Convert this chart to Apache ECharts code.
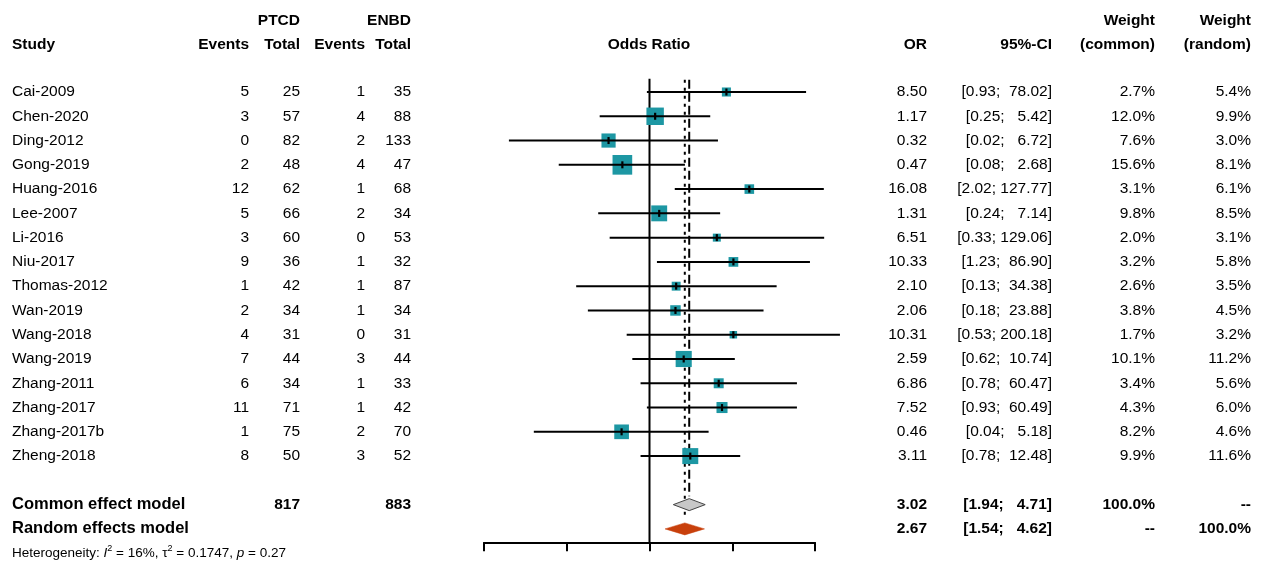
<!DOCTYPE html>
<html><head><meta charset="utf-8">
<script src="https://cdn.jsdelivr.net/npm/echarts@6/dist/echarts.min.js"></script>
<style>html,body{margin:0;padding:0;background:#fff}#c{width:1261px;height:565px}</style>
</head><body><div id="c"></div>
<script>
// ---------------- DATA ----------------
const studies = ['Cai-2009','Chen-2020','Ding-2012','Gong-2019','Huang-2016','Lee-2007','Li-2016','Niu-2017','Thomas-2012','Wan-2019','Wang-2018','Wang-2019','Zhang-2011','Zhang-2017','Zhang-2017b','Zheng-2018'];
const ptcdEvents = [5,3,0,2,12,5,3,9,1,2,4,7,6,11,1,8];
const ptcdTotal  = [25,57,82,48,62,66,60,36,42,34,31,44,34,71,75,50];
const enbdEvents = [1,4,2,4,1,2,0,1,1,1,0,3,1,1,2,3];
const enbdTotal  = [35,88,133,47,68,34,53,32,87,34,31,44,33,42,70,52];
const oddsRatio  = [8.50,1.17,0.32,0.47,16.08,1.31,6.51,10.33,2.10,2.06,10.31,2.59,6.86,7.52,0.46,3.11];
const ciLower    = [0.93,0.25,0.02,0.08,2.02,0.24,0.33,1.23,0.13,0.18,0.53,0.62,0.78,0.93,0.04,0.78];
const ciUpper    = [78.02,5.42,6.72,2.68,127.77,7.14,129.06,86.90,34.38,23.88,200.18,10.74,60.47,60.49,5.18,12.48];
const weightCommon = [2.7,12.0,7.6,15.6,3.1,9.8,2.0,3.2,2.6,3.8,1.7,10.1,3.4,4.3,8.2,9.9];
const weightRandom = [5.4,9.9,3.0,8.1,6.1,8.5,3.1,5.8,3.5,4.5,3.2,11.2,5.6,6.0,4.6,11.6];
const pooledNames  = ['Common effect model','Random effects model'];
const pooledPTCD   = ['817',''];
const pooledENBD   = ['883',''];
const pooledOR     = [3.02, 2.67];
const pooledLower  = [1.94, 1.54];
const pooledUpper  = [4.71, 4.62];
const pooledWCommon = ['100.0%','--'];
const pooledWRandom = ['--','100.0%'];
const axisMin = 0.01, axisMax = 100;
const heterogeneity = {I2: '16%', tau2: '0.1747', p: '0.27'};

// ---------------- LAYOUT / STYLE ----------------
const FONT = '"Liberation Sans", Arial, Helvetica, sans-serif';
const FS = 15.5;
const TEAL = '#1D97A3';
const RED = '#C8400C';
const GRAY = '#C8C8C8';
const COL = {study:12, pEv:249, pTot:300, eEv:365, eTot:411, or:927, ci:1052, wc:1155, wr:1251, forest:649};
const nStudies = studies.length;
const rowCommon = nStudies + 1, rowRandom = nStudies + 2, rowHet = nStudies + 3;

const f2 = v => v.toFixed(2);
const pad = (s, n) => ' '.repeat(Math.max(0, n - s.length)) + s;
const ciText = (lo, up) => '[' + f2(lo) + '; ' + pad(f2(up), 6) + ']';

function T(x, y, text, align, bold, size) {
  return {type:'text', x:x, y:y, silent:true, style:{
    text:text, fill:'#000', fontFamily:FONT, fontSize:size||FS, fontWeight:bold?'bold':'normal',
    align:align||'left', textAlign:align||'left', verticalAlign:'middle', textVerticalAlign:'middle'}};
}

const studyData = studies.map((s,i)=>[oddsRatio[i], i, ciLower[i], ciUpper[i], weightCommon[i]]);
const pooledData = pooledOR.map((v,i)=>[v, rowCommon+i, pooledLower[i], pooledUpper[i], i]);
const refData = [
  [1, -0.55, 18.55, 0],
  [pooledOR[0], -0.5, 16.65, 1],
  [pooledOR[1], -0.5, 17.6, 2]
];

const chart = echarts.init(document.getElementById('c'), null, {renderer:'canvas'});
const option = {
  animation:false,
  backgroundColor:'#fff',
  grid:{left:484, width:331, top:78.65, height:463.6, containLabel:false},
  xAxis:{type:'log', logBase:10, min:axisMin, max:axisMax, position:'bottom',
    axisLine:{show:true, onZero:false, lineStyle:{color:'#000', width:2}},
    axisTick:{show:true, inside:false, length:9, lineStyle:{color:'#000', width:2}},
    axisLabel:{show:false}, splitLine:{show:false}, minorTick:{show:false}},
  yAxis:{type:'value', inverse:true, min:-0.55, max:18.55, show:false},
  series:[
    { // reference lines
      type:'custom', z:1, clip:false, data:refData, encode:{x:0, y:[1,2]},
      renderItem:(p, api)=>{
        const a = api.coord([api.value(0), api.value(1)]);
        const b = api.coord([api.value(0), api.value(2)]);
        const k = api.value(3);
        const dash = k===0 ? null : (k===1 ? [9,4] : [3,5]);
        return {type:'line', shape:{x1:a[0], y1:a[1], x2:b[0], y2:b[1]},
          style:{stroke:'#000', lineWidth:2, lineDash:dash}};
      }
    },
    { // studies: squares + CI
      type:'custom', z:3, clip:false, data:studyData, encode:{x:[0,2,3], y:1},
      renderItem:(p, api)=>{
        const row = api.value(1);
        const c = api.coord([api.value(0), row]);
        const lo = api.coord([api.value(2), row]);
        const up = api.coord([api.value(3), row]);
        const s = 4.6*Math.sqrt(api.value(4)) + 1.5;
        return {type:'group', children:[
          {type:'rect', shape:{x:c[0]-s/2, y:c[1]-s/2, width:s, height:s}, style:{fill:TEAL}},
          {type:'line', shape:{x1:lo[0], y1:c[1], x2:up[0], y2:c[1]}, style:{stroke:'#000', lineWidth:2}},
          {type:'line', shape:{x1:c[0], y1:c[1]-3.5, x2:c[0], y2:c[1]+3.5}, style:{stroke:'#000', lineWidth:2.2}}
        ]};
      }
    },
    { // pooled diamonds
      type:'custom', z:3, clip:false, data:pooledData, encode:{x:[0,2,3], y:1},
      renderItem:(p, api)=>{
        const row = api.value(1);
        const c = api.coord([api.value(0), row]);
        const lo = api.coord([api.value(2), row]);
        const up = api.coord([api.value(3), row]);
        const h = 6;
        const common = api.value(4)===0;
        return {type:'polygon', shape:{points:[[lo[0],c[1]],[c[0],c[1]-h],[up[0],c[1]],[c[0],c[1]+h]]},
          style:{fill: common?GRAY:RED, stroke: common?'#444':RED, lineWidth: common?1:0.5}};
      }
    },
    { // table text for studies
      type:'custom', z:4, clip:false, data:studies.map((s,i)=>[1,i]), encode:{x:0, y:1},
      renderItem:(p, api)=>{
        const i = p.dataIndex;
        const y = api.coord([1, api.value(1)])[1];
        return {type:'group', children:[
          T(COL.study, y, studies[i], 'left'),
          T(COL.pEv, y, String(ptcdEvents[i]), 'right'),
          T(COL.pTot, y, String(ptcdTotal[i]), 'right'),
          T(COL.eEv, y, String(enbdEvents[i]), 'right'),
          T(COL.eTot, y, String(enbdTotal[i]), 'right'),
          T(COL.or, y, f2(oddsRatio[i]), 'right'),
          T(COL.ci, y, ciText(ciLower[i], ciUpper[i]), 'right'),
          T(COL.wc, y, weightCommon[i].toFixed(1)+'%', 'right'),
          T(COL.wr, y, weightRandom[i].toFixed(1)+'%', 'right')
        ]};
      }
    },
    { // pooled text
      type:'custom', z:4, clip:false, data:pooledNames.map((s,i)=>[1,rowCommon+i]), encode:{x:0, y:1},
      renderItem:(p, api)=>{
        const i = p.dataIndex;
        const y = api.coord([1, api.value(1)])[1];
        return {type:'group', children:[
          T(COL.study, y, pooledNames[i], 'left', true, 16.5),
          T(COL.pTot, y, pooledPTCD[i], 'right', true),
          T(COL.eTot, y, pooledENBD[i], 'right', true),
          T(COL.or, y, f2(pooledOR[i]), 'right', true),
          T(COL.ci, y, ciText(pooledLower[i], pooledUpper[i]), 'right', true),
          T(COL.wc, y, pooledWCommon[i], 'right', true),
          T(COL.wr, y, pooledWRandom[i], 'right', true)
        ]};
      }
    },
    { // headers + heterogeneity
      type:'custom', z:4, clip:false, data:[[1,-2.95],[1,-1.95],[1,rowHet]], encode:{x:0, y:1},
      renderItem:(p, api)=>{
        const y = api.coord([1, api.value(1)])[1];
        if (p.dataIndex===0) return {type:'group', children:[
          T(COL.pTot, y, 'PTCD', 'right', true),
          T(COL.eTot, y, 'ENBD', 'right', true),
          T(COL.wc, y, 'Weight', 'right', true),
          T(COL.wr, y, 'Weight', 'right', true)
        ]};
        if (p.dataIndex===1) return {type:'group', children:[
          T(COL.study, y, 'Study', 'left', true),
          T(COL.pEv, y, 'Events', 'right', true),
          T(COL.pTot, y, 'Total', 'right', true),
          T(COL.eEv, y, 'Events', 'right', true),
          T(COL.eTot, y, 'Total', 'right', true),
          T(COL.forest, y, 'Odds Ratio', 'center', true),
          T(COL.or, y, 'OR', 'right', true),
          T(COL.ci, y, '95%-CI', 'right', true),
          T(COL.wc, y, '(common)', 'right', true),
          T(COL.wr, y, '(random)', 'right', true)
        ]};
        const base = {fontFamily:FONT, fontSize:13.5, fill:'#000', lineHeight:18};
        return {type:'text', x:COL.study, y:y, silent:true, style:{
          text:'{n|Heterogeneity: }{i|I}{s|2}{n| = ' + heterogeneity.I2 + ', τ}{s|2}{n| = ' + heterogeneity.tau2 + ', }{i|p}{n| = ' + heterogeneity.p + '}',
          fill:'#000', fontFamily:FONT, fontSize:13.5, align:'left', textAlign:'left', verticalAlign:'middle', textVerticalAlign:'middle',
          rich:{n:Object.assign({}, base),
                i:Object.assign({}, base, {fontStyle:'italic'}),
                s:{fontFamily:FONT, fontSize:9, fill:'#000', lineHeight:9, verticalAlign:'top'}}}};
      }
    }
  ]
};
chart.setOption(option);
</script>
</body></html>
